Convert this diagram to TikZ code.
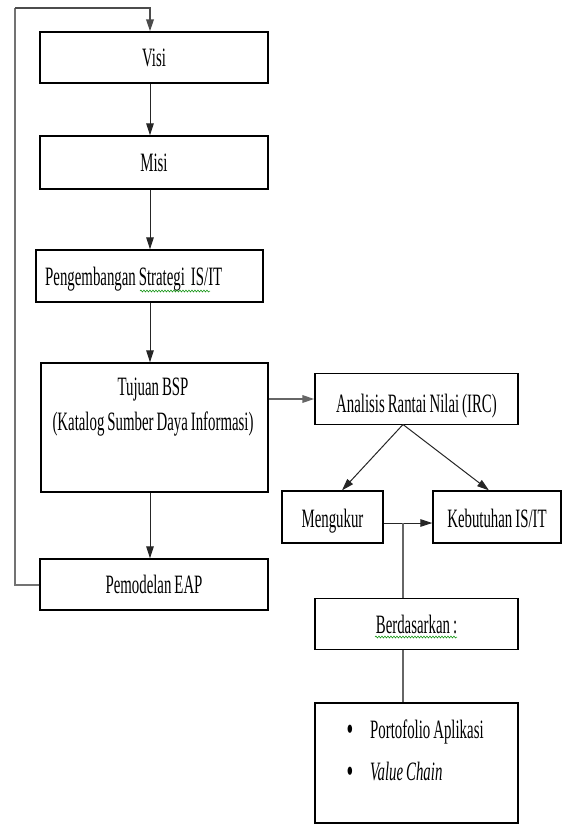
\documentclass[tikz,border=0pt]{standalone}
\usepackage{fontspec}
\setmainfont{Liberation Serif}[FakeStretch=0.56, WordSpace=0.8]
\usetikzlibrary{arrows.meta,decorations.pathmorphing}
\begin{document}
\begin{tikzpicture}[x=1pt,y=-1pt,
  box/.style={draw=black, line width=1.3pt, rectangle, inner sep=0pt,
    font=\fontsize{26.5}{35}\selectfont, text height=18pt, text depth=0pt},
  txt/.style={inner sep=0pt, font=\fontsize{26.5}{35}\selectfont},
  dot/.style={inner sep=0pt, font=\fontsize{34}{34}\selectfont},
  tip/.style={-{Triangle[length=12pt,width=7.5pt]}},
  link/.style={draw=black!85, line width=1pt},
  arr/.style={link, tip},
  back/.style={draw=black!55, line width=2pt},
  squiggle/.style={draw=green!55!black, line width=0.5pt, decorate,
    decoration={snake, amplitude=1pt, segment length=3pt}}]
\useasboundingbox (0,0) rectangle (564,825);

% reference points for the main column and the feedback loop
\coordinate (spine) at (150,0);
\coordinate (fb) at (15,8);
\coordinate (apex) at (403,424.5);
\coordinate (junc) at (403,523);
\coordinate (tipL) at (342,0);
\coordinate (tipR) at (489,0);

% left column
\node[box, minimum width=228pt, minimum height=51pt] (visi) at (154,57.5) {Visi};
\node[box, minimum width=228pt, minimum height=53pt] (misi) at (154,162.5) {Misi};
\node[box, minimum width=227pt, minimum height=52pt] (peng) at (149.5,276) {};
\node[txt, anchor=base west] (pengtxt) at (45,285) {Pengembangan Strategi\ \ IS/IT};
\node[box, minimum width=227pt, minimum height=129pt] (bsp) at (154.5,427.5) {};
\node[txt, anchor=north, align=center] (bsptxt) at (153,378)
      {Tujuan BSP\\(Katalog Sumber Daya Informasi)};
\node[box, minimum width=228pt, minimum height=51pt] (eap) at (154,584.5) {Pemodelan EAP};

% right branch
\node[box, minimum width=203pt, minimum height=51pt, text height=26pt] (irc) at (416.5,399)
      {Analisis Rantai Nilai (IRC)};
\node[box, minimum width=101pt, minimum height=52pt, text height=20pt] (ukur) at (332.5,517) {Mengukur};
\node[box, minimum width=128pt, minimum height=52pt, text height=20pt] (kebut) at (497,517) {Kebutuhan IS/IT};
\node[box, minimum width=203pt, minimum height=51pt] (dasar) at (416.5,624) {Berdasarkan :};
\node[box, minimum width=203pt, minimum height=120pt] (port) at (416.5,763) {};
\node[dot, anchor=base] (b1) at (350,740) {\textbullet};
\node[txt, anchor=base west] (p1) at (370,738) {Portofolio Aplikasi};
\node[dot, anchor=base] (b2) at (350,782) {\textbullet};
\node[txt, anchor=base west] (p2) at (370,780) {\itshape Value Chain};

% spell-check marks
\draw[squiggle] (140,291) -- (210,291);
\draw[squiggle] (375,637) -- (457,637);

% main column arrows
\draw[arr] (visi.south -| spine) -- (misi.north -| spine);
\draw[arr] (misi.south -| spine) -- (peng.north -| spine);
\draw[arr] (peng.south -| spine) -- (bsp.north -| spine);
\draw[arr] (bsp.south -| spine) -- (eap.north -| spine);

% feedback loop
\draw[back] (eap.west) -| (fb);
\draw[back, draw=black!70, tip] (fb) -| (visi.north -| spine);

% branch connectors
\draw[arr, draw=black!60, line width=1.8pt] (bsp.east |- irc.west) -- (irc.west);
\draw[arr] (apex) -- (ukur.north -| tipL);
\draw[arr] (apex) -- (kebut.north -| tipR);
\draw[arr] (ukur.east |- junc) -- (kebut.west |- junc);
\draw[link, draw=black!60, line width=1.5pt] (junc) -- (dasar.north -| junc);
\draw[link, draw=black!60, line width=1.5pt] (dasar.south -| junc) -- (port.north -| junc);
\end{tikzpicture}
\end{document}
